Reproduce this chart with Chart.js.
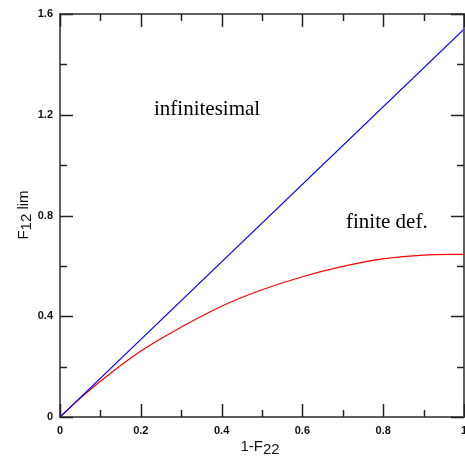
<!DOCTYPE html>
<html>
<head>
<meta charset="utf-8">
<script src="https://cdn.jsdelivr.net/npm/chart.js@4.4.1/dist/chart.umd.min.js"></script>
<style>
html,body{margin:0;padding:0;background:#fff;}
#wrap{width:465px;height:457px;}
</style>
</head>
<body>
<div id="wrap"><canvas id="c" width="465" height="457"></canvas></div>
<script>
// ---- data ----
const infinitesimalX = [0, 1];
const infinitesimalY = [0, 1.54];
const finiteX = [0, 0.05, 0.1, 0.2, 0.3, 0.4, 0.5, 0.6, 0.7, 0.8, 0.9, 1.0];
const finiteY = [0, 0.074, 0.142, 0.262, 0.357, 0.440, 0.505, 0.557, 0.598, 0.628, 0.643, 0.646];
const xMajorTicks = [0, 0.2, 0.4, 0.6, 0.8, 1];
const xTickLabels = ['0', '0.2', '0.4', '0.6', '0.8', '1'];
const xMinorTicks = [0.1, 0.3, 0.5, 0.7, 0.9];
const yMajorTicks = [0, 0.4, 0.8, 1.2, 1.6];
const yTickLabels = ['0', '0.4', '0.8', '1.2', '1.6'];
const yMinorTicks = [0.2, 0.6, 1.0, 1.4];
const annotations = [
  {text: 'infinitesimal', x: 0.364, y: 1.22},
  {text: 'finite def.', x: 0.809, y: 0.772}
];

const toPts = (xs, ys) => xs.map((x, i) => ({x: x, y: ys[i]}));

const framePlugin = {
  id: 'frame',
  afterDraw(chart) {
    const ctx = chart.ctx;
    const a = chart.chartArea;
    const xs = chart.scales.x, ys = chart.scales.y;
    ctx.save();
    // frame
    ctx.strokeStyle = '#606060';
    ctx.lineWidth = 2;
    ctx.strokeRect(a.left, a.top, a.right - a.left, a.bottom - a.top);
    // ticks
    ctx.strokeStyle = '#222';
    ctx.lineWidth = 1.5;
    const major = 13, minor = 7;
    const vt = (v, len) => {
      const px = Math.round(xs.getPixelForValue(v)) + 0.5;
      ctx.beginPath();
      ctx.moveTo(px, a.bottom); ctx.lineTo(px, a.bottom - len);
      ctx.moveTo(px, a.top); ctx.lineTo(px, a.top + len);
      ctx.stroke();
    };
    const ht = (v, len) => {
      const py = Math.round(ys.getPixelForValue(v)) + 0.5;
      ctx.beginPath();
      ctx.moveTo(a.left, py); ctx.lineTo(a.left + len, py);
      ctx.moveTo(a.right, py); ctx.lineTo(a.right - len, py);
      ctx.stroke();
    };
    xMajorTicks.forEach(v => vt(v, major));
    xMinorTicks.forEach(v => vt(v, minor));
    yMajorTicks.forEach(v => ht(v, major));
    yMinorTicks.forEach(v => ht(v, minor));
    // tick labels
    ctx.fillStyle = '#111';
    ctx.font = 'bold 11px "Liberation Sans", Arial, sans-serif';
    ctx.textAlign = 'center';
    ctx.textBaseline = 'middle';
    xMajorTicks.forEach((v, i) => {
      ctx.fillText(xTickLabels[i], xs.getPixelForValue(v), a.bottom + 14);
    });
    ctx.textAlign = 'right';
    yMajorTicks.forEach((v, i) => {
      ctx.fillText(yTickLabels[i], a.left - 7, ys.getPixelForValue(v));
    });
    // x axis title: 1-F22
    ctx.font = '15px "Liberation Sans", Arial, sans-serif';
    ctx.textBaseline = 'alphabetic';
    ctx.textAlign = 'left';
    const t1 = '1-F', t2 = '22';
    const w1 = ctx.measureText(t1).width, w2 = ctx.measureText(t2).width;
    const cx = 260;
    const x0 = cx - (w1 + w2) / 2;
    ctx.fillText(t1, x0, 451);
    ctx.fillText(t2, x0 + w1, 454);
    // y axis title: F12 lim (rotated)
    ctx.save();
    ctx.translate(29, 215);
    ctx.rotate(-Math.PI / 2);
    const s1 = 'F', s2 = '12', s3 = ' lim';
    const u1 = ctx.measureText(s1).width, u2 = ctx.measureText(s2).width, u3 = ctx.measureText(s3).width;
    let sx = -(u1 + u2 + u3) / 2;
    ctx.fillText(s1, sx, -1);
    ctx.fillText(s2, sx + u1, 2);
    ctx.fillText(s3, sx + u1 + u2, -1);
    ctx.restore();
    // annotations
    ctx.font = '21px "Liberation Serif", "Times New Roman", serif';
    ctx.textAlign = 'center';
    ctx.textBaseline = 'middle';
    ctx.fillStyle = '#000';
    annotations.forEach(an => {
      ctx.fillText(an.text, xs.getPixelForValue(an.x), ys.getPixelForValue(an.y));
    });
    ctx.restore();
  }
};

new Chart(document.getElementById('c'), {
  type: 'scatter',
  data: {
    datasets: [
      {label: 'infinitesimal', data: toPts(infinitesimalX, infinitesimalY), showLine: true, borderColor: '#0000ff', borderWidth: 1.2, pointRadius: 0, tension: 0},
      {label: 'finite def.', data: toPts(finiteX, finiteY), showLine: true, borderColor: '#ff0000', borderWidth: 1.2, pointRadius: 0, cubicInterpolationMode: 'monotone'}
    ]
  },
  options: {
    responsive: false,
    animation: false,
    devicePixelRatio: 1,
    layout: {padding: {left: 60, top: 14, right: 1, bottom: 40}},
    plugins: {legend: {display: false}, tooltip: {enabled: false}},
    scales: {
      x: {type: 'linear', min: 0, max: 1, ticks: {display: false}, grid: {display: false}, border: {display: false}, afterFit: s => { s.height = 0; }},
      y: {type: 'linear', min: 0, max: 1.6, ticks: {display: false}, grid: {display: false}, border: {display: false}, afterFit: s => { s.width = 0; }}
    }
  },
  plugins: [framePlugin]
});
</script>
</body>
</html>
